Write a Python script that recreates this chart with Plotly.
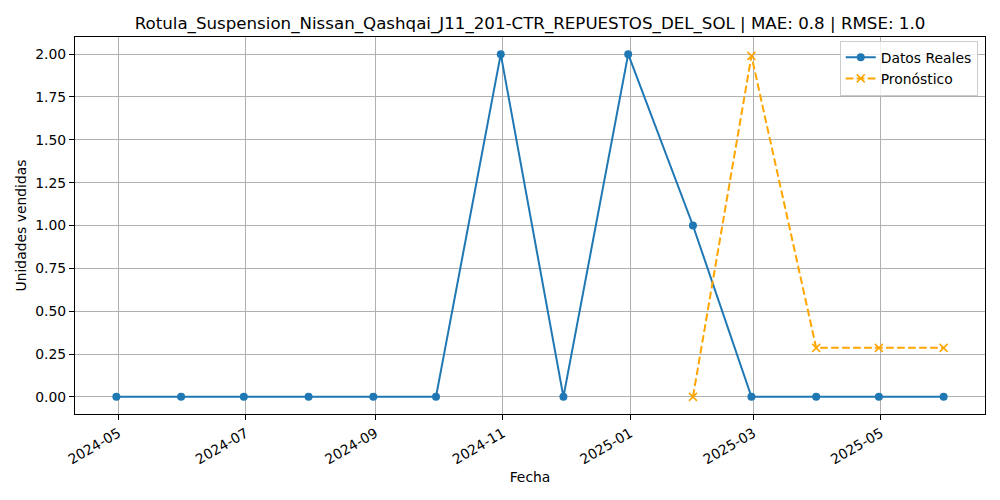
import pandas as pd
import plotly.graph_objects as go

### Data
fechas = pd.date_range("2024-04-30", periods=14, freq="ME")
reales = [0, 0, 0, 0, 0, 0, 2, 0, 2, 1, 0, 0, 0, 0]

fechas_pron = fechas[9:]
pronostico = [0.0, 1.99, 0.286, 0.286, 0.286]

titulo = "Rotula_Suspension_Nissan_Qashqai_J11_201-CTR_REPUESTOS_DEL_SOL | MAE: 0.8 | RMSE: 1.0"

### Range like matplotlib margins (5%)
span = fechas[-1] - fechas[0]
x_range = [fechas[0] - span * 0.05, fechas[-1] + span * 0.05]

font = "DejaVu Sans"
fs = 13.9

fig = go.Figure()
fig.add_trace(go.Scatter(
    x=fechas, y=reales,
    mode="lines+markers",
    name="Datos Reales",
    line=dict(color="#1f77b4", width=2),
    marker=dict(symbol="circle", size=8, color="#1f77b4"),
))
fig.add_trace(go.Scatter(
    x=fechas_pron, y=pronostico,
    mode="lines+markers",
    name="Pronóstico",
    line=dict(color="orange", width=2, dash="7.7px,3.3px"),
    marker=dict(symbol="x-thin", size=8, color="orange",
                line=dict(color="orange", width=1.5)),
))

axis_common = dict(
    showgrid=True, gridcolor="#b0b0b0", gridwidth=1,
    showline=True, linecolor="black", linewidth=1, mirror=True,
    ticks="outside", ticklen=5, tickcolor="black",
    tickfont=dict(family=font, size=fs, color="black"),
    zeroline=False, automargin=False,
)

# page body has 8px margin, so the figure is 992x492
fig.update_layout(
    width=992, height=492,
    paper_bgcolor="white", plot_bgcolor="white",
    margin=dict(l=67, r=15, t=29, b=86),
    title=dict(text=titulo, xref="paper", x=0.5, xanchor="center",
               y=0.97, yanchor="middle",
               font=dict(family=font, size=16.67, color="black")),
    font=dict(family=font, color="black"),
    legend=dict(x=0.992, xanchor="right", y=0.99, yanchor="top",
                bgcolor="rgba(255,255,255,0.8)", bordercolor="#cccccc", borderwidth=1,
                font=dict(family=font, size=fs, color="black")),
    xaxis=dict(
        axis_common,
        range=x_range,
        tick0="2024-05-01", dtick="M2", tickformat="%Y-%m", tickangle=-30,
        title=dict(text="Fecha", font=dict(family=font, size=fs, color="black"), standoff=5),
    ),
    yaxis=dict(
        axis_common,
        range=[-0.1, 2.1],
        tick0=0, dtick=0.25, tickformat=".2f",
        title=dict(text="Unidades vendidas", font=dict(family=font, size=fs, color="black"), standoff=5),
    ),
)

fig.write_html("out.html")
